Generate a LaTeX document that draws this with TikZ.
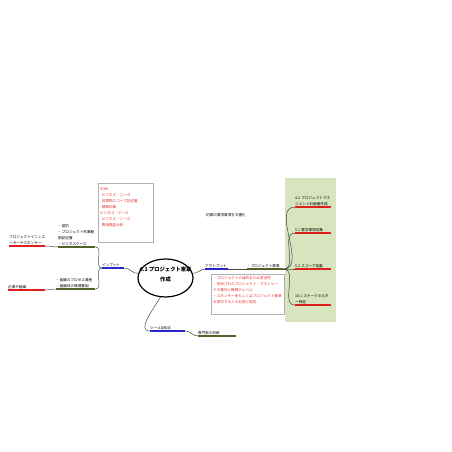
\documentclass[tikz,border=0pt]{standalone}
\usepackage{fontspec}
\setmainfont{Noto Sans CJK JP}
\usetikzlibrary{shapes.geometric}
\pgfdeclarelayer{nodelayer}
\pgfdeclarelayer{edgelayer}
\pgfsetlayers{edgelayer,nodelayer,main}
\definecolor{topicblue}{RGB}{40,40,200}
\definecolor{topicgreen}{RGB}{79,98,40}
\definecolor{topicred}{RGB}{225,30,30}
\definecolor{notered}{RGB}{230,40,40}
\definecolor{areagreen}{RGB}{215,228,189}
\definecolor{boxgrey}{RGB}{175,175,175}
\definecolor{linkgrey}{RGB}{70,70,70}
\newcommand\jpsmall{\fontsize{3.6}{5.9}\selectfont}
\tikzstyle{core}=[draw=black, line width=1.2pt, fill=white, shape=ellipse, minimum width=55pt, minimum height=38pt, inner sep=0pt, align=center, text depth=8.5pt, font=\fontsize{5.3}{10}\selectfont\bfseries]
\tikzstyle{topic}=[anchor=south west, inner xsep=0pt, inner ysep=1.2pt, align=left, font=\jpsmall]
\tikzstyle{note text}=[anchor=north west, inner sep=0pt, align=left, font=\jpsmall, text=notered]
\tikzstyle{free text}=[anchor=west, inner sep=0pt, font=\jpsmall]
\tikzstyle{blue line}=[draw=topicblue, line width=1.6pt]
\tikzstyle{green line}=[draw=topicgreen, line width=1.6pt]
\tikzstyle{red line}=[draw=topicred, line width=1.6pt]
\tikzstyle{link}=[draw=linkgrey, line width=0.5pt]
\tikzstyle{note box}=[draw=boxgrey, line width=0.5pt]
\tikzstyle{green area}=[fill=areagreen]

\begin{document}
\begin{tikzpicture}[x=1pt, y=-1pt]
	\useasboundingbox (0, 0) rectangle (452, 452);
	\begin{pgfonlayer}{nodelayer}
		\node [style=core] (core) at (165.5, 278) {\makebox[30pt]{4.1 プロジェクト憲章}\\作成};
		% inputs
		\node [style=topic, text width=22pt] (inp) at (102, 268) {インプット};
		\node [style=topic, text width=37pt] (inp1) at (58, 247) {・契約\\・プロジェクト作業範\\囲記述書\\・ビジネスケース};
		\node [style=topic, text width=39pt] (inp2) at (56, 289) {・組織のプロセス資産\\・組織体の環境要因};
		\node [style=topic, text width=36pt] (src1) at (9, 246) {プロジェクトイニシエ\\ーターやスポンサー};
		\node [style=topic, text width=37pt] (src2) at (8, 290) {企業や組織};
		\node [style=note text] (sow) at (100, 188) {SOW\\\hspace{1.7pt}ビジネス・ニーズ\\\hspace{1.7pt}成果物スコープ記述書\\\hspace{1.7pt}戦略計画\\ビジネス・ケース\\\hspace{1.7pt}ビジネス・ニーズ\\\hspace{1.7pt}費用便益分析};
		% outputs
		\node [style=topic, text width=23pt] (outp) at (205, 269) {アウトプット};
		\node [style=topic, text width=36pt] (charter) at (247, 269) {・プロジェクト憲章};
		\node [style=free text] (initial) at (206, 215) {初期の要求事項を文書化};
		\node [style=note text] (contents) at (213, 276.5) {・プロジェクトの目的または妥当性\\・任命されたプロジェクト・マネジャー、\\その責任と権限のレベル\\・スポンサー名もしくはプロジェクト憲章\\を認可する人の名前と地位};
		\node [style=topic, text width=36pt] (nxt1) at (295, 207) {4.2 プロジェクトマネ\\ジメント計画書作成};
		\node [style=topic, text width=36pt] (nxt2) at (295, 233) {5.1 要求事項収集};
		\node [style=topic, text width=36pt] (nxt3) at (295, 269) {5.2 スコープ定義};
		\node [style=topic, text width=36pt] (nxt4) at (295, 305) {10.1 ステークホルダ\\ー特定};
		% tools
		\node [style=topic, text width=35pt] (tool) at (150, 331) {ツール\&技法};
		\node [style=topic, text width=38pt] (expert) at (198, 336) {専門家の判断};
	\end{pgfonlayer}
	\begin{pgfonlayer}{edgelayer}
		\fill [style=green area] (285, 178) rectangle (336, 322);
		\draw [style=note box] (98, 183) rectangle (153, 242);
		\draw [style=note box] (211, 274) rectangle (284, 314);
		\draw [style=link] (inp.south east) to [out=0, in=190] (core.170);
		\draw [style=link] (inp.south west) to [out=180, in=0] (inp1.south east);
		\draw [style=link] (inp.south west) to [out=180, in=0] (inp2.south east);
		\draw [style=link] (inp1.south west) to [out=180, in=0] (src1.south east);
		\draw [style=link] (inp2.south west) to [out=180, in=0] (src2.south east);
		\draw [style=link] (core.10) to [out=-10, in=180] (outp.south west);
		\draw [style=link] (outp.south east) to (charter.south west);
		\draw [style=link] (charter.south east) to [out=0, in=180] (nxt1.south west);
		\draw [style=link] (charter.south east) to [out=0, in=180] (nxt2.south west);
		\draw [style=link] (charter.south east) to [out=0, in=180] (nxt3.south west);
		\draw [style=link] (charter.south east) to [out=0, in=180] (nxt4.south west);
		\draw [style=link] (core.255) to [out=240, in=180] (tool.south west);
		\draw [style=link] (tool.south east) to [out=0, in=180] (expert.south west);
		\draw [style=blue line] (inp.south west) to (inp.south east);
		\draw [style=green line] (inp1.south west) to (inp1.south east);
		\draw [style=green line] (inp2.south west) to (inp2.south east);
		\draw [style=red line] (src1.south west) to (src1.south east);
		\draw [style=red line] (src2.south west) to (src2.south east);
		\draw [style=blue line] (outp.south west) to (outp.south east);
		\draw [style=green line] (charter.south west) to (charter.south east);
		\draw [style=red line] (nxt1.south west) to (nxt1.south east);
		\draw [style=red line] (nxt2.south west) to (nxt2.south east);
		\draw [style=red line] (nxt3.south west) to (nxt3.south east);
		\draw [style=red line] (nxt4.south west) to (nxt4.south east);
		\draw [style=blue line] (tool.south west) to (tool.south east);
		\draw [style=green line] (expert.south west) to (expert.south east);
	\end{pgfonlayer}
\end{tikzpicture}
\end{document}
